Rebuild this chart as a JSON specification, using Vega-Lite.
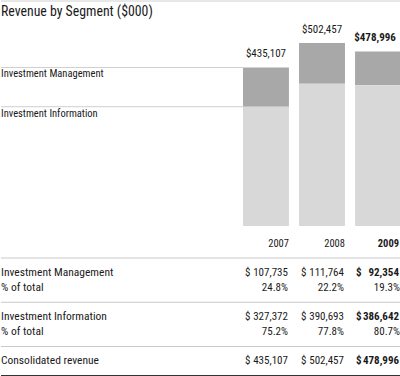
{
  "$schema": "https://vega.github.io/schema/vega-lite/v6.json",
  "padding": 0,
  "spacing": 0,
  "background": "white",
  "config": {
    "view": {"stroke": null},
    "axis": {"disable": true},
    "legend": {"disable": true},
    "text": {"font": "Roboto Condensed, Liberation Sans, sans-serif", "fontSize": 11, "color": "#1a1a1a"},
    "concat": {"spacing": 0}
  },
  "datasets": {
    "segments": [
      {"year": "2007", "segment": "Investment Management", "value": 107735},
      {"year": "2007", "segment": "Investment Information", "value": 327372},
      {"year": "2008", "segment": "Investment Management", "value": 111764},
      {"year": "2008", "segment": "Investment Information", "value": 390693},
      {"year": "2009", "segment": "Investment Management", "value": 92354},
      {"year": "2009", "segment": "Investment Information", "value": 386642}
    ],
    "table": [
      {"key": "im", "label": "Investment Management", "year": "2007", "amount": 107735},
      {"key": "im", "label": "Investment Management", "year": "2008", "amount": 111764},
      {"key": "im", "label": "Investment Management", "year": "2009", "amount": 92354},
      {"key": "im_pct", "label": "% of total", "year": "2007", "pct": 0.248},
      {"key": "im_pct", "label": "% of total", "year": "2008", "pct": 0.222},
      {"key": "im_pct", "label": "% of total", "year": "2009", "pct": 0.193},
      {"key": "ii", "label": "Investment Information", "year": "2007", "amount": 327372},
      {"key": "ii", "label": "Investment Information", "year": "2008", "amount": 390693},
      {"key": "ii", "label": "Investment Information", "year": "2009", "amount": 386642},
      {"key": "ii_pct", "label": "% of total", "year": "2007", "pct": 0.752},
      {"key": "ii_pct", "label": "% of total", "year": "2008", "pct": 0.778},
      {"key": "ii_pct", "label": "% of total", "year": "2009", "pct": 0.807},
      {"key": "total", "label": "Consolidated revenue", "year": "2007", "amount": 435107},
      {"key": "total", "label": "Consolidated revenue", "year": "2008", "amount": 502457},
      {"key": "total", "label": "Consolidated revenue", "year": "2009", "amount": 478996}
    ],
    "lines": [
      {"key": "top"}, {"key": "sep1"}, {"key": "sep2"}, {"key": "bottom"}
    ]
  },
  "vconcat": [
    {
      "width": 400,
      "height": 256,
      "title": {"text": "Revenue by Segment ($000)", "anchor": "start", "frame": "group", "offset": -18, "fontSize": 13.8, "fontWeight": "normal", "font": "Roboto Condensed, Liberation Sans, sans-serif", "color": "#1a1a1a", "baseline": "top"},
      "data": {"name": "segments"},
      "transform": [
        {"stack": "value", "groupby": ["year"], "sort": [{"field": "segment", "order": "ascending"}], "as": ["y0", "y1"]}
      ],
      "layer": [
        {
          "data": {"values": [{}]},
          "mark": {"type": "rule", "color": "#d0d0d0", "strokeWidth": 1},
          "encoding": {"y": {"datum": 617600, "type": "quantitative", "scale": {"domain": [-85100, 617600], "nice": false, "zero": false}}}
        },
        {
          "mark": {"type": "bar"},
          "encoding": {
            "x": {"field": "year", "type": "ordinal", "scale": {"type": "band", "domain": ["2007", "2008", "2009"], "range": [242, 400], "paddingInner": 0.18, "paddingOuter": 0}},
            "y": {"field": "y0", "type": "quantitative", "scale": {"domain": [-85100, 617600], "nice": false, "zero": false}},
            "y2": {"field": "y1"},
            "color": {"field": "segment", "type": "nominal", "scale": {"domain": ["Investment Management", "Investment Information"], "range": ["#a8a8a8", "#d8d8d8"]}}
          }
        },
        {
          "transform": [{"filter": "datum.year === '2007'"}],
          "mark": {"type": "rule", "color": "#cfcfcf", "strokeWidth": 1},
          "encoding": {
            "x": {"field": "year", "type": "ordinal", "bandPosition": 0, "scale": {"type": "band", "domain": ["2007", "2008", "2009"], "range": [242, 400], "paddingInner": 0.18, "paddingOuter": 0}},
            "x2": {"value": 0},
            "y": {"field": "y1", "type": "quantitative", "scale": {"domain": [-85100, 617600], "nice": false, "zero": false}}
          }
        },
        {
          "transform": [{"filter": "datum.year === '2007'"}],
          "mark": {"type": "text", "align": "left", "baseline": "middle", "dy": 7, "fontSize": 10.5},
          "encoding": {
            "x": {"value": 0},
            "y": {"field": "y1", "type": "quantitative", "scale": {"domain": [-85100, 617600], "nice": false, "zero": false}},
            "text": {"field": "segment"}
          }
        },
        {
          "transform": [
            {"aggregate": [{"op": "sum", "field": "value", "as": "total"}], "groupby": ["year"]},
            {"filter": "datum.year !== '2009'"}
          ],
          "mark": {"type": "text", "baseline": "middle", "dy": -13, "fontSize": 11},
          "encoding": {
            "x": {"field": "year", "type": "ordinal", "bandPosition": 0.5, "scale": {"type": "band", "domain": ["2007", "2008", "2009"], "range": [242, 400], "paddingInner": 0.18, "paddingOuter": 0}},
            "y": {"field": "total", "type": "quantitative", "scale": {"domain": [-85100, 617600], "nice": false, "zero": false}},
            "text": {"field": "total", "type": "quantitative", "format": "$,d"}
          }
        },
        {
          "transform": [
            {"aggregate": [{"op": "sum", "field": "value", "as": "total"}], "groupby": ["year"]},
            {"filter": "datum.year === '2009'"}
          ],
          "mark": {"type": "text", "baseline": "middle", "dy": -13, "dx": -3, "fontSize": 11, "fontWeight": "bold"},
          "encoding": {
            "x": {"field": "year", "type": "ordinal", "bandPosition": 0.5, "scale": {"type": "band", "domain": ["2007", "2008", "2009"], "range": [242, 400], "paddingInner": 0.18, "paddingOuter": 0}},
            "y": {"field": "total", "type": "quantitative", "scale": {"domain": [-85100, 617600], "nice": false, "zero": false}},
            "text": {"field": "total", "type": "quantitative", "format": "$,d"}
          }
        },
        {
          "transform": [
            {"aggregate": [{"op": "count", "as": "n"}], "groupby": ["year"]},
            {"filter": "datum.year !== '2009'"}
          ],
          "mark": {"type": "text", "align": "right", "baseline": "middle", "dy": 18, "fontSize": 10.5},
          "encoding": {
            "x": {"field": "year", "type": "ordinal", "bandPosition": 1, "scale": {"type": "band", "domain": ["2007", "2008", "2009"], "range": [242, 400], "paddingInner": 0.18, "paddingOuter": 0}},
            "y": {"datum": 0, "type": "quantitative", "scale": {"domain": [-85100, 617600], "nice": false, "zero": false}},
            "text": {"field": "year"}
          }
        },
        {
          "transform": [
            {"aggregate": [{"op": "count", "as": "n"}], "groupby": ["year"]},
            {"filter": "datum.year === '2009'"}
          ],
          "mark": {"type": "text", "align": "right", "baseline": "middle", "dy": 18, "dx": -2, "fontSize": 10.5, "fontWeight": "bold"},
          "encoding": {
            "x": {"field": "year", "type": "ordinal", "bandPosition": 1, "scale": {"type": "band", "domain": ["2007", "2008", "2009"], "range": [242, 400], "paddingInner": 0.18, "paddingOuter": 0}},
            "y": {"datum": 0, "type": "quantitative", "scale": {"domain": [-85100, 617600], "nice": false, "zero": false}},
            "text": {"field": "year"}
          }
        }
      ]
    },
    {
      "width": 400,
      "height": 118,
      "data": {"name": "table"},
      "layer": [
        {
          "data": {"name": "lines"},
          "transform": [{"filter": "datum.key !== 'bottom'"}],
          "mark": {"type": "rule", "color": "#c8c8c8", "strokeWidth": 1},
          "encoding": {"y": {"field": "key", "type": "ordinal", "scale": {"type": "point", "domain": ["top", "im", "im_pct", "sep1", "ii", "ii_pct", "sep2", "total", "bottom"], "padding": 0}}}
        },
        {
          "data": {"name": "lines"},
          "transform": [{"filter": "datum.key === 'bottom'"}],
          "mark": {"type": "rule", "color": "#333333", "strokeWidth": 2},
          "encoding": {"y": {"field": "key", "type": "ordinal", "scale": {"type": "point", "domain": ["top", "im", "im_pct", "sep1", "ii", "ii_pct", "sep2", "total", "bottom"], "padding": 0}}}
        },
        {
          "transform": [{"filter": "datum.year === '2007'"}],
          "mark": {"type": "text", "align": "left", "baseline": "middle", "fontSize": 11.5},
          "encoding": {
            "x": {"value": 0},
            "y": {"field": "key", "type": "ordinal", "scale": {"type": "point", "domain": ["top", "im", "im_pct", "sep1", "ii", "ii_pct", "sep2", "total", "bottom"], "padding": 0}},
            "text": {"field": "label"}
          }
        },
        {
          "transform": [{"filter": "isValid(datum.amount) && datum.year !== '2009'"}],
          "mark": {"type": "text", "align": "left", "baseline": "middle", "dx": 2},
          "encoding": {
            "x": {"field": "year", "type": "ordinal", "bandPosition": 0, "scale": {"type": "band", "domain": ["2007", "2008", "2009"], "range": [242, 400], "paddingInner": 0.18, "paddingOuter": 0}},
            "y": {"field": "key", "type": "ordinal", "scale": {"type": "point", "domain": ["top", "im", "im_pct", "sep1", "ii", "ii_pct", "sep2", "total", "bottom"], "padding": 0}},
            "text": {"value": "$"}
          }
        },
        {
          "transform": [{"filter": "isValid(datum.amount) && datum.year !== '2009'"}],
          "mark": {"type": "text", "align": "right", "baseline": "middle", "dx": -1},
          "encoding": {
            "x": {"field": "year", "type": "ordinal", "bandPosition": 1, "scale": {"type": "band", "domain": ["2007", "2008", "2009"], "range": [242, 400], "paddingInner": 0.18, "paddingOuter": 0}},
            "y": {"field": "key", "type": "ordinal", "scale": {"type": "point", "domain": ["top", "im", "im_pct", "sep1", "ii", "ii_pct", "sep2", "total", "bottom"], "padding": 0}},
            "text": {"field": "amount", "type": "quantitative", "format": ","}
          }
        },
        {
          "transform": [{"filter": "isValid(datum.amount) && datum.year === '2009'"}],
          "mark": {"type": "text", "align": "left", "baseline": "middle", "dx": 1, "fontWeight": "bold"},
          "encoding": {
            "x": {"field": "year", "type": "ordinal", "bandPosition": 0, "scale": {"type": "band", "domain": ["2007", "2008", "2009"], "range": [242, 400], "paddingInner": 0.18, "paddingOuter": 0}},
            "y": {"field": "key", "type": "ordinal", "scale": {"type": "point", "domain": ["top", "im", "im_pct", "sep1", "ii", "ii_pct", "sep2", "total", "bottom"], "padding": 0}},
            "text": {"value": "$"}
          }
        },
        {
          "transform": [{"filter": "isValid(datum.amount) && datum.year === '2009'"}],
          "mark": {"type": "text", "align": "right", "baseline": "middle", "dx": -2, "fontWeight": "bold"},
          "encoding": {
            "x": {"field": "year", "type": "ordinal", "bandPosition": 1, "scale": {"type": "band", "domain": ["2007", "2008", "2009"], "range": [242, 400], "paddingInner": 0.18, "paddingOuter": 0}},
            "y": {"field": "key", "type": "ordinal", "scale": {"type": "point", "domain": ["top", "im", "im_pct", "sep1", "ii", "ii_pct", "sep2", "total", "bottom"], "padding": 0}},
            "text": {"field": "amount", "type": "quantitative", "format": ","}
          }
        },
        {
          "transform": [{"filter": "isValid(datum.pct)"}],
          "mark": {"type": "text", "align": "right", "baseline": "middle", "dx": -1},
          "encoding": {
            "x": {"field": "year", "type": "ordinal", "bandPosition": 1, "scale": {"type": "band", "domain": ["2007", "2008", "2009"], "range": [242, 400], "paddingInner": 0.18, "paddingOuter": 0}},
            "y": {"field": "key", "type": "ordinal", "scale": {"type": "point", "domain": ["top", "im", "im_pct", "sep1", "ii", "ii_pct", "sep2", "total", "bottom"], "padding": 0}},
            "text": {"field": "pct", "type": "quantitative", "format": ".1%"}
          }
        }
      ]
    }
  ]
}
